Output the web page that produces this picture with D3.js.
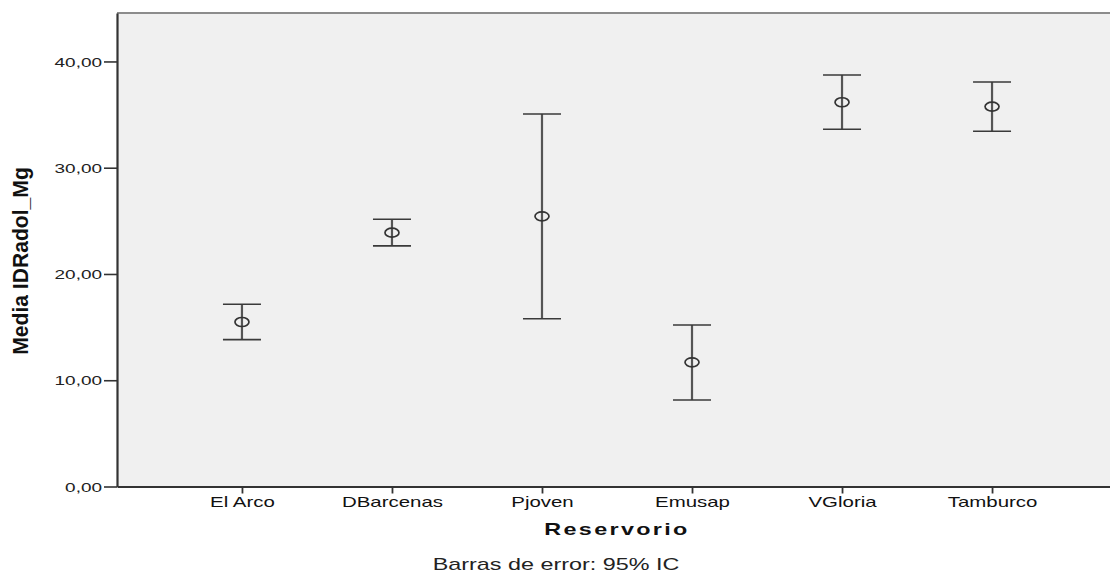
<!DOCTYPE html>
<html>
<head>
<meta charset="utf-8">
<script src="https://cdn.jsdelivr.net/npm/d3@7"></script>
<style>
  html, body { margin: 0; padding: 0; background: #ffffff; }
  svg { display: block; font-family: "Liberation Sans", Arial, sans-serif; }
</style>
</head>
<body>
<svg id="chart" width="1110" height="574"></svg>
<script>
// ---- data ----
const categories = ["El Arco", "DBarcenas", "Pjoven", "Emusap", "VGloria", "Tamburco"];
const means      = [15.48, 23.89, 25.43, 11.69, 36.16, 35.75];
const lowerCI    = [13.82, 22.64, 15.79,  8.14, 33.62, 33.43];
const upperCI    = [17.15, 25.15, 35.06, 15.20, 38.73, 38.07];
const yTicks     = [0, 10, 20, 30, 40];
const xTitle     = "Reservorio";
const yTitle     = "Media IDRadol_Mg";
const footnote   = "Barras de error: 95% IC";

(function () {
// ---- layout ----
const svg = d3.select("#chart");
const pL = 117, pR = 1117, pT = 13, pB = 486.5;
const SX = 1.46; // horizontal text stretch of the original

const x = d3.scalePoint().domain(categories).range([pL, pR]).padding(0.833);
const y = d3.scaleLinear().domain([0, 44.56]).range([pB, pT]);

const locale = d3.formatLocale({decimal: ",", thousands: ".", grouping: [3], currency: ["", ""]});
const fmt = locale.format(".2f");

// plot background
svg.append("rect")
  .attr("x", pL).attr("y", pT)
  .attr("width", pR - pL).attr("height", pB - pT)
  .attr("fill", "#f0f0f0");

// top frame line
svg.append("line")
  .attr("x1", pL).attr("x2", pR)
  .attr("y1", pT).attr("y2", pT)
  .attr("stroke", "#8c8c8c").attr("stroke-width", 2);

// error bars
const data = categories.map((c, i) => ({c, m: means[i], lo: lowerCI[i], hi: upperCI[i]}));
const eb = svg.append("g");
eb.selectAll("line.v").data(data).join("line")
  .attr("class", "v")
  .attr("x1", d => x(d.c)).attr("x2", d => x(d.c))
  .attr("y1", d => y(d.hi)).attr("y2", d => y(d.lo))
  .attr("stroke", "#555").attr("stroke-width", 2.2);
const capW = 19;
eb.selectAll("line.ct").data(data).join("line")
  .attr("class", "ct")
  .attr("x1", d => x(d.c) - capW).attr("x2", d => x(d.c) + capW)
  .attr("y1", d => y(d.hi)).attr("y2", d => y(d.hi))
  .attr("stroke", "#3a3a3a").attr("stroke-width", 1.6);
eb.selectAll("line.cb").data(data).join("line")
  .attr("class", "cb")
  .attr("x1", d => x(d.c) - capW).attr("x2", d => x(d.c) + capW)
  .attr("y1", d => y(d.lo)).attr("y2", d => y(d.lo))
  .attr("stroke", "#3a3a3a").attr("stroke-width", 1.6);
eb.selectAll("ellipse").data(data).join("ellipse")
  .attr("cx", d => x(d.c)).attr("cy", d => y(d.m))
  .attr("rx", 7).attr("ry", 4.5)
  .attr("fill", "none").attr("stroke", "#333").attr("stroke-width", 1.7);

// y axis
const gy = svg.append("g").attr("transform", `translate(${pL},0)`)
  .call(d3.axisLeft(y).tickValues(yTicks).tickFormat(fmt).tickSize(13).tickSizeOuter(0));
gy.select(".domain").attr("stroke", "#333").attr("stroke-width", 2.2);
gy.selectAll(".tick line").attr("stroke", "#333").attr("stroke-width", 1.6);
gy.selectAll(".tick text")
  .attr("x", -15 / SX).attr("dy", "0.36em")
  .attr("transform", `scale(${SX},1)`)
  .attr("font-size", 13).attr("fill", "#222")
  .attr("font-family", "Liberation Sans, Arial, sans-serif");

// x axis
const gx = svg.append("g").attr("transform", `translate(0,${pB})`)
  .call(d3.axisBottom(x).tickSize(7).tickSizeOuter(0));
gx.select(".domain").attr("stroke", "#333").attr("stroke-width", 2.2);
gx.selectAll(".tick line").attr("stroke", "#333").attr("stroke-width", 1.8);
gx.selectAll(".tick text")
  .attr("x", 0).attr("y", 20.5).attr("dy", 0)
  .attr("transform", `scale(${SX},1)`)
  .attr("font-size", 14).attr("fill", "#111")
  .attr("font-family", "Liberation Sans, Arial, sans-serif");

// x title
svg.append("text")
  .attr("transform", `translate(617,535) scale(${SX},1)`)
  .attr("text-anchor", "middle")
  .attr("font-size", 16).attr("font-weight", "bold")
  .attr("letter-spacing", "1.6px")
  .attr("fill", "#111")
  .text(xTitle);

// y title
svg.append("text")
  .attr("transform", `translate(28,261) rotate(-90) scale(1.32,1.38)`)
  .attr("text-anchor", "middle")
  .attr("font-size", 16).attr("font-weight", "bold")
  .attr("fill", "#111")
  .text(yTitle);

// footnote
svg.append("text")
  .attr("transform", `translate(556,570) scale(${SX},1)`)
  .attr("text-anchor", "middle")
  .attr("font-size", 16)
  .attr("fill", "#222")
  .text(footnote);
})();
</script>
</body>
</html>
